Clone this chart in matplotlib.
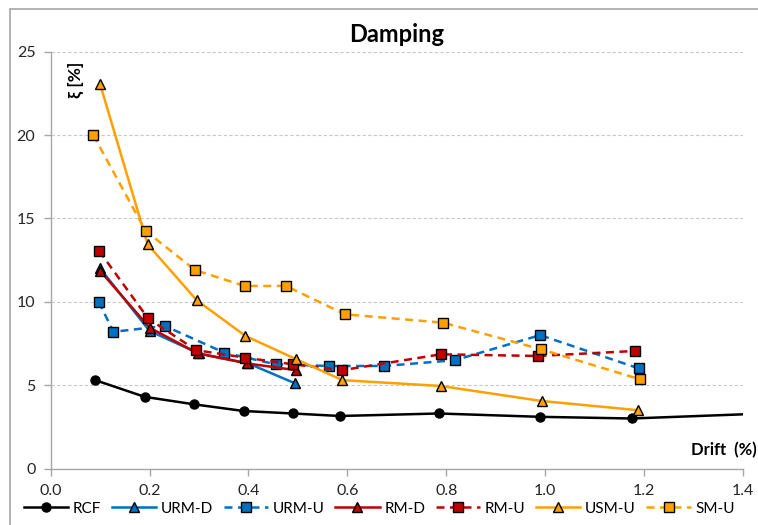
"""
Damping ratio vs drift for the tested frames
"""

import matplotlib
matplotlib.use('Agg')
import matplotlib.pyplot as plt
from matplotlib.patches import Rectangle

plt.rcParams['font.family'] = ['Lato', 'DejaVu Sans']

# Data
rcf_x = [0.09, 0.19, 0.29, 0.39, 0.49, 0.585, 0.785, 0.99, 1.175, 1.4]
rcf_y = [5.3, 4.3, 3.85, 3.45, 3.3, 3.15, 3.3, 3.1, 3.0, 3.25]

urm_d_x = [0.1, 0.2, 0.3, 0.4, 0.495]
urm_d_y = [12.0, 8.25, 6.9, 6.3, 5.1]

urm_u_x = [0.097, 0.127, 0.231, 0.351, 0.455, 0.563, 0.675, 0.818, 0.99, 1.19]
urm_u_y = [10.0, 8.2, 8.55, 6.95, 6.25, 6.15, 6.15, 6.5, 8.0, 6.0]

rm_d_x = [0.1, 0.2, 0.298, 0.398, 0.496]
rm_d_y = [11.85, 8.45, 6.9, 6.3, 5.9]

rm_u_x = [0.098, 0.197, 0.294, 0.393, 0.49, 0.59, 0.789, 0.985, 1.182]
rm_u_y = [13.05, 9.0, 7.1, 6.65, 6.25, 5.9, 6.85, 6.75, 7.05]

usm_u_x = [0.1, 0.196, 0.295, 0.394, 0.497, 0.59, 0.789, 0.993, 1.187]
usm_u_y = [23.05, 13.45, 10.1, 7.95, 6.55, 5.3, 4.95, 4.05, 3.5]

sm_u_x = [0.086, 0.192, 0.292, 0.392, 0.476, 0.595, 0.793, 0.992, 1.192]
sm_u_y = [20.0, 14.25, 11.9, 10.95, 10.95, 9.25, 8.75, 7.15, 5.35]

x_ticks = [0.0, 0.2, 0.4, 0.6, 0.8, 1.0, 1.2, 1.4]
y_ticks = [0, 5, 10, 15, 20, 25]

BLUE = '#0070C0'
RED = '#C00000'
ORANGE = '#FFA000'

fig = plt.figure(figsize=(7.58, 5.25), dpi=100)
ax = fig.add_axes([0.0669, 0.1076, 0.9131, 0.7939])

# Chart area border (Excel style), only top and left edges visible
fig.patches.append(Rectangle((10 / 758, -0.1), 1.2, 1.1 - 9 / 525,
                             transform=fig.transFigure, fill=False,
                             edgecolor='#a6a6a6', lw=1.2))

dash = (3.2, 2.2)
common = dict(lw=1.8, markeredgecolor='black', markeredgewidth=1.0)

ax.plot(rcf_x, rcf_y, color='black', marker='o', markersize=6.5,
        markevery=list(range(len(rcf_x) - 1)), label='RCF', **common)
ax.plot(urm_d_x, urm_d_y, color=BLUE, marker='^', markersize=7.5,
        markerfacecolor=BLUE, label='URM-D', **common)
ax.plot(urm_u_x, urm_u_y, color=BLUE, marker='s', markersize=7,
        markerfacecolor=BLUE, dashes=dash, label='URM-U', **common)
ax.plot(rm_d_x, rm_d_y, color=RED, marker='^', markersize=7.5,
        markerfacecolor=RED, label='RM-D', **common)
ax.plot(rm_u_x, rm_u_y, color=RED, marker='s', markersize=7,
        markerfacecolor=RED, dashes=dash, label='RM-U', **common)
ax.plot(usm_u_x, usm_u_y, color=ORANGE, marker='^', markersize=7.5,
        markerfacecolor=ORANGE, label='USM-U', **common)
ax.plot(sm_u_x, sm_u_y, color=ORANGE, marker='s', markersize=7,
        markerfacecolor=ORANGE, dashes=dash, label='SM-U', **common)

ax.set_xlim(0, 1.4)
ax.set_ylim(0, 25)
ax.set_xticks(x_ticks)
ax.set_xticklabels([f'{t:.1f}' for t in x_ticks])
ax.set_yticks(y_ticks)

ax.grid(axis='y', color='#c8c8c8', linestyle=(0, (3, 2)), lw=0.8)
ax.set_axisbelow(True)

for side in ['top', 'right']:
    ax.spines[side].set_visible(False)
for side in ['left', 'bottom']:
    ax.spines[side].set_color('#a6a6a6')
    ax.spines[side].set_linewidth(1.0)
ax.tick_params(direction='out', length=5, width=1.0, color='#a6a6a6',
               labelsize=11.5, labelcolor='#262626', pad=6)

ax.set_title('Damping', fontsize=17, fontweight='bold', pad=7)
ax.text(0.036, 0.975, 'ξ [%]', transform=ax.transAxes, rotation=90,
        fontsize=12.5, fontweight='bold', ha='center', va='top')
ax.text(1.02, 0.045, 'Drift  (%)', transform=ax.transAxes,
        fontsize=12, fontweight='bold', ha='right', va='center')

ax.legend(loc='upper center', bbox_to_anchor=(0.475, -0.065), ncol=7,
          frameon=False, fontsize=11, handlelength=2.9, handletextpad=0.3,
          columnspacing=0.7, borderaxespad=0)

plt.savefig('out.png', dpi=100)
plt.close()
